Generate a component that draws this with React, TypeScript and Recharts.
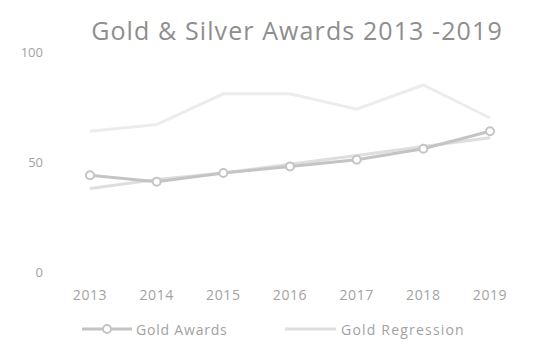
import { Legend, Line, LineChart, XAxis, YAxis } from "recharts";

const years = ["2013", "2014", "2015", "2016", "2017", "2018", "2019"];
const goldAwards = [44, 41, 45, 48, 51, 56, 64];
const goldRegression = [38, 42, 45, 49, 53, 57, 61];
const silverAwards = [64, 67, 81, 81, 74, 85, 70];
const yTicks = [0, 50, 100];

const data = years.map((year, i) => ({
  year,
  gold: goldAwards[i],
  goldReg: goldRegression[i],
  silver: silverAwards[i],
}));

const FONT = "'Open Sans', 'Liberation Sans', sans-serif";
const TEXT = "#a2a2a2";

function YTick({ y, payload }: any) {
  return (
    <text x={43} y={y} textAnchor="end" dominantBaseline="central" fill={TEXT} fontSize={13} fontFamily={FONT}>
      {payload.value}
    </text>
  );
}

function LegendContent() {
  return (
    <svg width={558} height={24} style={{ display: "block" }}>
      <line x1={82} y1={12} x2={132} y2={12} stroke="#c4c4c4" strokeWidth={3} />
      <circle cx={107} cy={12} r={4} fill="#fff" stroke="#c4c4c4" strokeWidth={2} />
      <text x={136} y={12} dominantBaseline="central" fill={TEXT} fontSize={14} letterSpacing={0.8} fontFamily={FONT}>
        Gold Awards
      </text>
      <line x1={285} y1={12} x2={336} y2={12} stroke="#dedede" strokeWidth={3} />
      <text x={341} y={12} dominantBaseline="central" fill={TEXT} fontSize={14} letterSpacing={1.2} fontFamily={FONT}>
        Gold Regression
      </text>
    </svg>
  );
}

export default function App() {
  return (
    <div style={{ position: "absolute", left: 0, top: 0, width: 558, height: 347, background: "#fff" }}>
      <div
        style={{
          position: "absolute",
          left: 0,
          top: 13,
          width: 594,
          textAlign: "center",
          fontFamily: FONT,
          fontSize: 25,
          letterSpacing: 1.1,
          lineHeight: "34px",
          color: "#8e8e8e",
        }}
      >
        Gold &amp; Silver Awards 2013 -2019
      </div>
      <LineChart width={558} height={347} data={data} margin={{ top: 52, right: 40, left: 0, bottom: 6 }}>
        <XAxis
          dataKey="year"
          padding={{ left: 30, right: 28 }}
          axisLine={false}
          tickLine={false}
          tick={{ fill: TEXT, fontSize: 14, fontFamily: FONT, letterSpacing: 0.6 }}
          tickMargin={12}
          height={45}
        />
        <YAxis width={60} domain={[0, 100]} ticks={yTicks} axisLine={false} tickLine={false} tick={<YTick />} />
        <Legend verticalAlign="bottom" content={<LegendContent />} />
        <Line
          dataKey="silver"
          name="Silver Awards"
          stroke="#ececec"
          strokeWidth={3}
          dot={false}
          legendType="none"
          isAnimationActive={false}
        />
        <Line
          dataKey="goldReg"
          name="Gold Regression"
          stroke="#dedede"
          strokeWidth={3}
          dot={false}
          isAnimationActive={false}
        />
        <Line
          dataKey="gold"
          name="Gold Awards"
          stroke="#c4c4c4"
          strokeWidth={3}
          dot={{ r: 4, fill: "#fff", stroke: "#c4c4c4", strokeWidth: 2 }}
          isAnimationActive={false}
        />
      </LineChart>
    </div>
  );
}
